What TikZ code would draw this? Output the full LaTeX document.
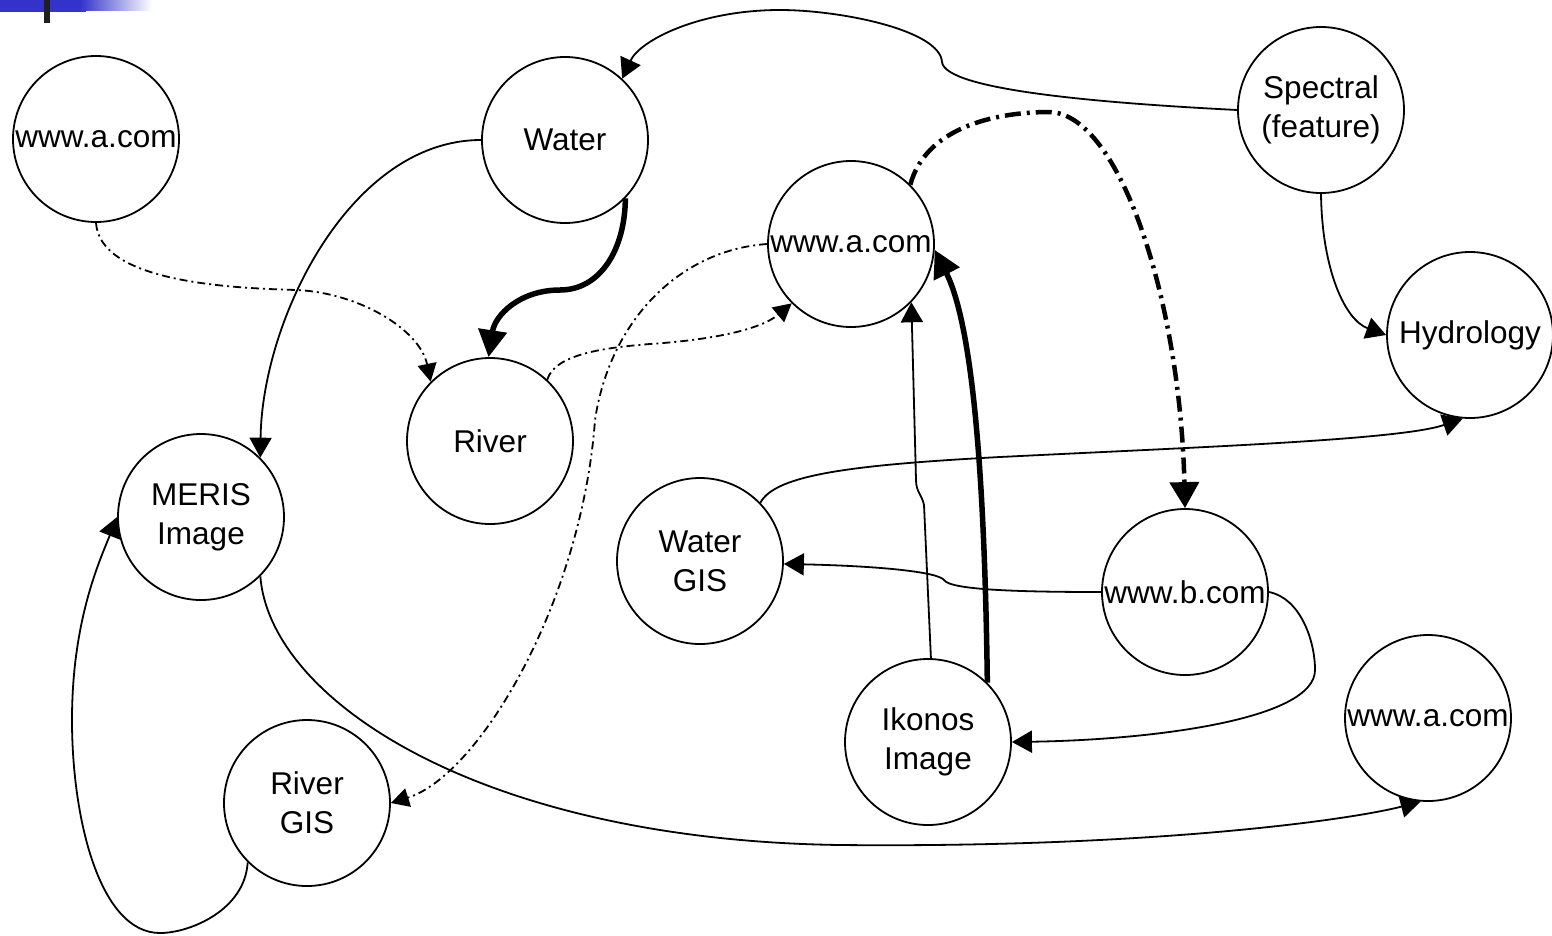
\documentclass[tikz,border=0pt]{standalone}
\usepackage{fontspec}
\setmainfont{Liberation Sans}
\usetikzlibrary{arrows.meta}
\definecolor{barblue}{RGB}{51,51,204}
\begin{document}
\begin{tikzpicture}[x=1pt,y=-1pt,
  circ/.style={draw, circle, minimum size=166pt, inner sep=0pt, line width=1.8pt, align=center, font=\fontsize{31.5}{39}\selectfont},
  conn/.style={line width=1.8pt, -{Triangle[length=20pt,width=22pt]}},
  thickconn/.style={line width=5.5pt, -{Triangle[length=27pt,width=28pt]}},
  ddconn/.style={line width=1.8pt, dash pattern=on 8pt off 4pt on 2pt off 4pt, -{Triangle[length=18pt,width=19pt]}},
  thickdd/.style={line width=4.5pt, dash pattern=on 16pt off 6pt on 3pt off 6pt, -{Triangle[length=26pt,width=29pt]}}
]
\useasboundingbox (0,0) rectangle (1552,935);
\fill[white] (0,0) rectangle (1552,935);
% top-left decoration
\fill[barblue] (0,0) rectangle (86,12);
\shade[left color=barblue, right color=white] (80,0) rectangle (152,10);
\fill[black!88] (44,0) rectangle (50,23);

% nodes
\node[circ] (wa1) at (96,139) {www.a.com};
\node[circ] (water) at (565,140) {Water};
\node[circ] (wa2) at (851,244) {www.a.com};
\node[circ] (spectral) at (1321,110) {Spectral\\(feature)};
\node[circ] (hydro) at (1470,335) {Hydrology};
\node[circ] (river) at (490,441) {River};
\node[circ] (meris) at (201,517) {MERIS\\Image};
\node[circ] (rivergis) at (307,803) {River\\GIS};
\node[circ] (watergis) at (700,561) {Water\\GIS};
\node[circ] (ikonos) at (928,742) {Ikonos\\Image};
\node[circ] (wb) at (1185,592) {www.b.com};
\node[circ] (wa3) at (1428,718) {www.a.com};

% connectors
\draw[conn] (spectral.west) .. controls (1100,103) and (945,90) .. (942,62)
  .. controls (940,30) and (840,10) .. (780,10)
  .. controls (700,10) and (640,40) .. (water.47);
\draw[conn] (water.west) .. controls (350,140) and (262,320) .. (meris.45);
\draw[thickconn] (water.-44) .. controls (625,250) and (600,290) .. (560,290)
  .. controls (520,290) and (495,315) .. (river.91);
\draw[ddconn] (wa1.south) .. controls (100,280) and (220,288) .. (297,290)
  .. controls (360,293) and (420,330) .. (river.135);
\draw[ddconn] (river.47) .. controls (555,355) and (600,348) .. (650,344)
  .. controls (710,340) and (760,330) .. (wa2.-135);
\draw[ddconn] (wa2.west) .. controls (680,250) and (610,320) .. (595,420)
  .. controls (582,600) and (480,775) .. (rivergis.east);
\draw[thickdd] (wa2.45) .. controls (925,130) and (990,112) .. (1050,112)
  .. controls (1120,115) and (1180,300) .. (wb.north);
\draw[thickconn] (ikonos.45) .. controls (985,500) and (975,330) .. (wa2.-4);
\draw[conn] (ikonos.88) -- (924,505) .. controls (922,495) and (916,492) .. (916,480) -- (wa2.-44);
\draw[conn] (watergis.44) .. controls (775,475) and (850,465) .. (1000,457)
  .. controls (1200,447) and (1400,440) .. (hydro.-95);
\draw[conn] (wb.west) .. controls (1020,592) and (950,590) .. (944,580)
  .. controls (938,572) and (880,566) .. (watergis.-2);
\draw[conn] (wb.east) .. controls (1300,598) and (1315,640) .. (1315,670)
  .. controls (1315,720) and (1150,740) .. (ikonos.east);
\draw[conn] (meris.-45) .. controls (270,700) and (480,840) .. (840,845)
  .. controls (1150,848) and (1350,820) .. (wa3.-95);
\draw[conn] (rivergis.-135) .. controls (245,910) and (190,933) .. (160,933)
  .. controls (100,933) and (72,820) .. (72,720)
  .. controls (72,620) and (100,560) .. (meris.west);
\draw[conn] (spectral.south) .. controls (1322,270) and (1345,320) .. (hydro.west);
\end{tikzpicture}
\end{document}
